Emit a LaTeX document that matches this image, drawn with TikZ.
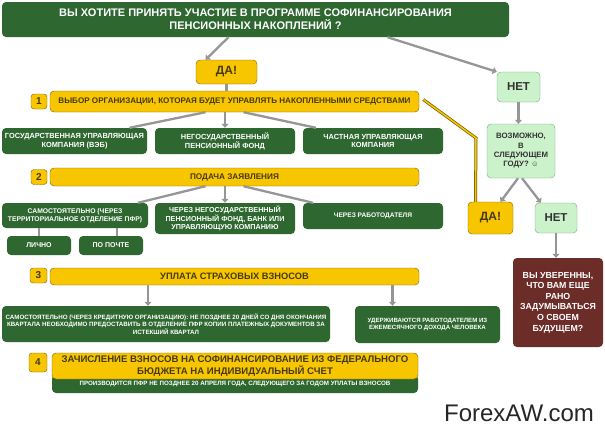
\documentclass[tikz,border=0pt]{standalone}
\usepackage{fontspec}
\setmainfont{Liberation Sans}
\newfontfamily\symfont{DejaVu Sans}
\usetikzlibrary{arrows.meta}
\definecolor{dkgreen}{RGB}{46,104,48}
\definecolor{yel}{RGB}{247,198,0}
\definecolor{yelline}{RGB}{120,96,10}
\definecolor{yeltext}{RGB}{70,58,20}
\definecolor{ltgreen}{RGB}{203,242,203}
\definecolor{ltline}{RGB}{120,170,120}
\definecolor{brown}{RGB}{108,44,40}
\definecolor{arrgray}{RGB}{150,150,150}
\tikzset{
    fs/.style={font=\bfseries\pgfmathsetlengthmacro\bls{1.2*#1}\fontsize{#1}{\bls}\selectfont},
    greenbox/.style={fill=dkgreen, rounded corners=4pt, text=white, align=center, inner sep=0pt},
    stepbar/.style={fill=yel, draw=yelline, rounded corners=4pt, text=yeltext, align=center, inner sep=0pt},
    badge/.style={fill=yel, draw=yelline, rounded corners=3pt, text=yeltext, inner sep=0pt, fs=10},
    lightbox/.style={fill=ltgreen, draw=ltline, rounded corners=4pt, text=black!80, align=center, inner sep=0pt},
    arr/.style={draw=arrgray, line width=2.3pt, -{Triangle[length=4pt,width=7pt]}},
    lnk/.style={draw=arrgray, line width=2.3pt},
    yellnk/.style={preaction={draw=yelline, line width=3pt}, draw=yel, line width=1.5pt}
}
\begin{document}
\begin{tikzpicture}[x=1pt,y=-1pt]
        \useasboundingbox[fill=white] (0,0) rectangle (605,434);

        \node[greenbox, fs=11, minimum width=507, minimum height=35] (title) at (255.5,19.5)
            {ВЫ ХОТИТЕ ПРИНЯТЬ УЧАСТИЕ В ПРОГРАММЕ СОФИНАНСИРОВАНИЯ\\ПЕНСИОННЫХ НАКОПЛЕНИЙ ?};

        \node[stepbar, fs=12, minimum width=61, minimum height=24] (da) at (226.5,72) {ДА!};

        \node[badge, minimum width=16, minimum height=15] (b1) at (39,101.5) {1};
        \node[stepbar, fs=8.1, minimum width=369, minimum height=21] (s1) at (234.5,101.5)
            {ВЫБОР ОРГАНИЗАЦИИ, КОТОРАЯ БУДЕТ УПРАВЛЯТЬ НАКОПЛЕННЫМИ СРЕДСТВАМИ};

        \node[greenbox, fs=7.4, minimum width=145, minimum height=26] (gos) at (74.5,141)
            {ГОСУДАРСТВЕННАЯ УПРАВЛЯЮЩАЯ\\КОМПАНИЯ (ВЭБ)};
        \node[greenbox, fs=7.4, minimum width=140, minimum height=26] (npf) at (225,141)
            {НЕГОСУДАРСТВЕННЫЙ\\ПЕНСИОННЫЙ ФОНД};
        \node[greenbox, fs=7.4, minimum width=140, minimum height=26] (chuk) at (373,141)
            {ЧАСТНАЯ УПРАВЛЯЮЩАЯ\\КОМПАНИЯ};

        \node[badge, minimum width=16, minimum height=15] (b2) at (39,177) {2};
        \node[stepbar, fs=8.2, minimum width=369, minimum height=18] (s2) at (234.5,177)
            {ПОДАЧА ЗАЯВЛЕНИЯ};

        \node[greenbox, fs=6.8, minimum width=146, minimum height=25] (sam) at (75,215.5)
            {САМОСТОЯТЕЛЬНО (ЧЕРЕЗ\\ТЕРРИТОРИАЛЬНОЕ ОТДЕЛЕНИЕ ПФР)};
        \node[greenbox, fs=7.2, minimum width=140, minimum height=31] (cnpf) at (225,218.5)
            {ЧЕРЕЗ НЕГОСУДАРСТВЕННЫЙ\\ПЕНСИОННЫЙ ФОНД, БАНК ИЛИ\\УПРАВЛЯЮЩУЮ КОМПАНИЮ};
        \node[greenbox, fs=6.6, minimum width=140, minimum height=26] (crab) at (373,216)
            {ЧЕРЕЗ РАБОТОДАТЕЛЯ};
        \node[greenbox, fs=7, minimum width=64, minimum height=19] (lich) at (39,245.5) {ЛИЧНО};
        \node[greenbox, fs=7, minimum width=64, minimum height=19] (poch) at (111,245.5) {ПО ПОЧТЕ};

        \node[badge, minimum width=17, minimum height=15] (b3) at (38.5,275.5) {3};
        \node[stepbar, fs=9.3, minimum width=369, minimum height=17] (s3) at (234.5,276.5)
            {УПЛАТА СТРАХОВЫХ ВЗНОСОВ};

        \node[greenbox, fs=6.2, minimum width=328, minimum height=36] (kred) at (166,324)
            {САМОСТОЯТЕЛЬНО (ЧЕРЕЗ КРЕДИТНУЮ ОРГАНИЗАЦИЮ): НЕ ПОЗДНЕЕ 20 ДНЕЙ СО ДНЯ ОКОНЧАНИЯ\\КВАРТАЛА НЕОБХОДИМО ПРЕДОСТАВИТЬ В ОТДЕЛЕНИЕ ПФР КОПИИ ПЛАТЕЖНЫХ ДОКУМЕНТОВ ЗА\\ИСТЕКШИЙ КВАРТАЛ};
        \node[greenbox, fs=6.1, minimum width=145, minimum height=37] (uder) at (427.5,324.5)
            {УДЕРЖИВАЮТСЯ РАБОТОДАТЕЛЕМ ИЗ\\ЕЖЕМЕСЯЧНОГО ДОХОДА ЧЕЛОВЕКА};

        \node[greenbox, fs=6.2, minimum width=366, minimum height=18] (zel4) at (235,384)
            {\raisebox{-3pt}{ПРОИЗВОДИТСЯ ПФР НЕ ПОЗДНЕЕ 20 АПРЕЛЯ ГОДА, СЛЕДУЮЩЕГО ЗА ГОДОМ УПЛАТЫ ВЗНОСОВ}};
        \node[badge, minimum width=18, minimum height=19] (b4) at (38,362.5) {4};
        \node[stepbar, fs=9.6, minimum width=366, minimum height=26] (s4) at (235,366)
            {ЗАЧИСЛЕНИЕ ВЗНОСОВ НА СОФИНАНСИРОВАНИЕ ИЗ ФЕДЕРАЛЬНОГО\\БЮДЖЕТА НА ИНДИВИДУАЛЬНЫЙ СЧЕТ};

        \node[lightbox, fs=11.5, minimum width=43, minimum height=30] (net1) at (518.5,87) {НЕТ};
        \node[lightbox, fs=7.8, minimum width=68, minimum height=54] (vozm) at (521,151)
            {ВОЗМОЖНО,\\В\\СЛЕДУЮЩЕМ\\ГОДУ? {\symfont\normalfont\fontsize{7.5}{8}\selectfont ☺}};
        \node[stepbar, fs=12, minimum width=45, minimum height=32] (da2) at (490.5,218) {ДА!};
        \node[lightbox, fs=11.5, minimum width=42, minimum height=30] (net2) at (556,218) {НЕТ};
        \node[fill=brown, rounded corners=4pt, text=white, align=center, inner sep=0pt,
              fs=8.8, minimum width=90, minimum height=89] (rano) at (558,302.5)
            {ВЫ УВЕРЕННЫ,\\ЧТО ВАМ ЕЩЕ\\РАНО\\ЗАДУМЫВАТЬСЯ\\О СВОЕМ\\БУДУЩЕМ?};

        \node[font=\fontsize{24}{28}\selectfont, text=black!85] (wm) at (519,413) {ForexAW.com};

        \draw[arr] ([xshift=-27pt]title.south) -- ([xshift=-21pt]da.north);
        \draw[arr] ([xshift=132pt]title.south) -- (net1.north west);
        \draw[lnk] (da.south) -- (da.south |- s1.north);

        \draw[lnk] ([xshift=-29pt]s1.south) -- ([xshift=55pt]gos.north);
        \draw[arr] (npf.north |- s1.south) -- (npf.north);
        \draw[lnk] ([xshift=9pt]s1.south) -- ([xshift=-57pt]chuk.north);

        \draw[lnk] ([xshift=-29pt]s2.south) -- ([xshift=63pt]sam.north);
        \draw[arr] (cnpf.north |- s2.south) -- (cnpf.north);
        \draw[lnk] ([xshift=9pt]s2.south) -- ([xshift=-60pt]crab.north);
        \draw[lnk] (lich.north |- sam.south) -- (lich.north);
        \draw[lnk] ([xshift=6pt]poch.north |- sam.south) -- ([xshift=6pt]poch.north);

        \draw[arr] ([xshift=-18pt]kred.north |- s3.south) -- ([xshift=-18pt]kred.north);
        \draw[arr] ([xshift=-35pt]uder.north |- s3.south) -- ([xshift=-35pt]uder.north);

        \draw[arr] (net1.south) -- (net1.south |- vozm.north);
        \draw[arr] ([xshift=-3pt]vozm.south) -- ([xshift=10pt]da2.north);
        \draw[arr] ([xshift=1pt]vozm.south) -- ([xshift=-15pt]net2.north);
        \draw[arr] (net2.south) -- (net2.south |- rano.north);

        \coordinate (bend) at (476,138);
        \draw[yellnk] ([xshift=4pt,yshift=2pt]s1.east) -- (bend) -- ([xshift=-15pt]da2.north);
    \end{tikzpicture}
\end{document}
